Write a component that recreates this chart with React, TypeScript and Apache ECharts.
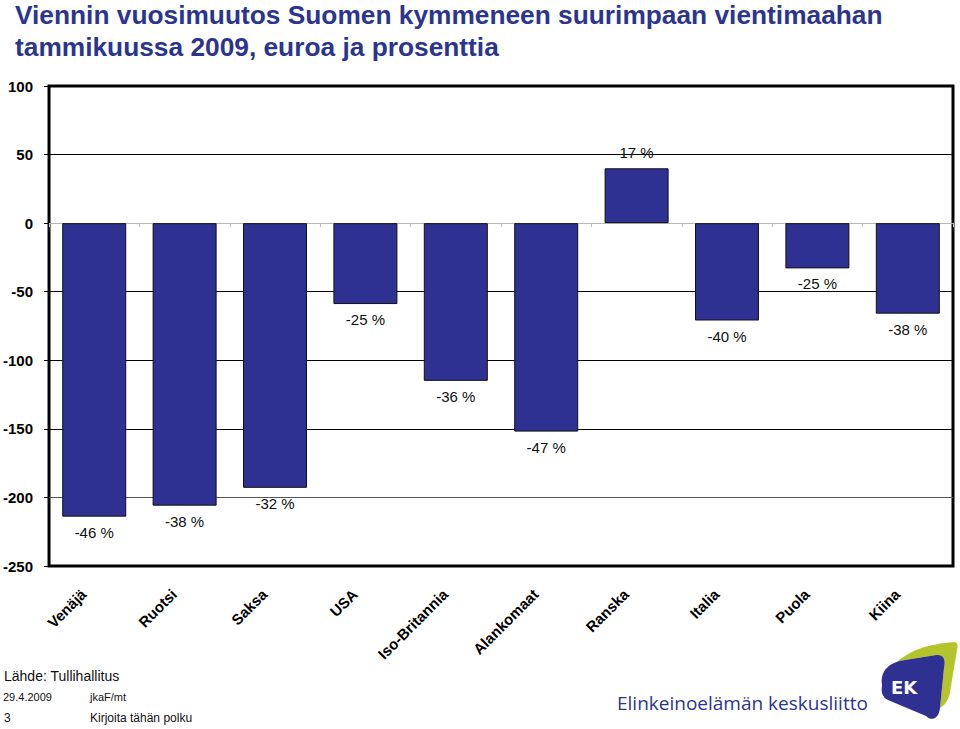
import React, { useEffect, useRef } from "react";
import * as echarts from "echarts";

const categories = ["Venäjä", "Ruotsi", "Saksa", "USA", "Iso-Britannia", "Alankomaat", "Ranska", "Italia", "Puola", "Kiina"];
const values = [-214, -206, -193, -59, -115, -152, 40, -71, -33, -66];
const percentLabels = ["-46 %", "-38 %", "-32 %", "-25 %", "-36 %", "-47 %", "17 %", "-40 %", "-25 %", "-38 %"];
const yMin = -250;
const yMax = 100;
const yInterval = 50;
const gridValues = [-200, -150, -100, -50, 50];

const titleLines = ["Viennin vuosimuutos Suomen kymmeneen suurimpaan vientimaahan", "tammikuussa 2009, euroa ja prosenttia"];

const BLUE_SHAPE = "M 12 55 C 10 40 20 32 35 30 L 66 25 C 74 24 76 30 74 38 L 70 78 C 69 88 62 92 56 86 L 18 70 C 12 67 11 62 12 55 Z";
const GREEN_SHAPE = "M 22 38 C 35 20 60 14 84 12 C 88 12 88 16 87 20 L 80 62 C 79 70 74 76 70 78 L 74 38 C 76 30 74 24 66 25 L 35 30 C 28 31 24 34 22 38 Z";

let registered = false;
function registerShapes() {
  if (registered) return;
  echarts.graphic.registerShape("ekBlue", echarts.graphic.extendPath(BLUE_SHAPE, {}) as any);
  echarts.graphic.registerShape("ekGreen", echarts.graphic.extendPath(GREEN_SHAPE, {}) as any);
  registered = true;
}

export default function App() {
  const ref = useRef<HTMLDivElement>(null);
  useEffect(() => {
    if (!ref.current) return;
    registerShapes();
    const chart = echarts.init(ref.current, null, { renderer: "svg" });
    const font = "'Liberation Sans', Arial, sans-serif";
    chart.setOption({
      animation: false,
      textStyle: { fontFamily: font },
      grid: {
        left: 48, right: 7, top: 86, bottom: 163,
        show: true, borderColor: "#000", borderWidth: 3, backgroundColor: "transparent",
      },
      xAxis: [
        {
          type: "category",
          data: categories,
          position: "bottom",
          axisLine: { show: false, onZero: false },
          axisTick: { show: false },
          axisLabel: {
            rotate: 45, interval: 0, margin: 15, padding: [0, 15, 0, 0],
            fontFamily: font, fontSize: 15, fontWeight: "bold", color: "#000",
          },
        },
        {
          type: "category",
          data: categories,
          position: "top",
          axisLine: { show: true, onZero: true, lineStyle: { color: "#b8b8b8", width: 1 } },
          axisTick: { show: true, length: 4, inside: true, lineStyle: { color: "#c0c0c0" } },
          axisLabel: { show: false },
        },
      ],
      yAxis: {
        type: "value",
        min: yMin, max: yMax, interval: yInterval,
        axisLine: { show: false },
        axisTick: { show: true, length: 5, lineStyle: { color: "#000" } },
        axisLabel: { margin: 16, fontFamily: font, fontSize: 15, fontWeight: "bold", color: "#000" },
        splitLine: { show: false },
      },
      series: [
        {
          type: "line",
          data: [],
          z: 1,
          markLine: {
            silent: true,
            z: 1,
            symbol: "none",
            label: { show: false },
            data: gridValues.map((v) => ({
              yAxis: v,
              lineStyle: { color: v === -200 ? "#555" : "#000", width: 1, type: "solid" },
            })),
          },
        },
        {
          type: "bar",
          xAxisIndex: 0,
          barWidth: 64,
          z: 3,
          data: values.map((v, i) => ({
            value: v,
            label: {
              show: true,
              position: v >= 0 ? "top" : "bottom",
              distance: 8,
              formatter: percentLabels[i],
            },
          })),
          itemStyle: { color: "#2e3192", borderColor: "#111", borderWidth: 1 },
          label: { fontFamily: font, fontSize: 15, color: "#111" },
        },
      ],
      graphic: [
        {
          type: "text", x: 15, y: 15,
          style: { text: titleLines[0], font: `bold 26.3px ${font}`, fill: "#2b3590", textVerticalAlign: "middle" },
        },
        {
          type: "text", x: 15, y: 47,
          style: { text: titleLines[1], font: `bold 26.3px ${font}`, fill: "#2b3590", textVerticalAlign: "middle" },
        },
        {
          type: "text", x: 4, y: 676,
          style: { text: "Lähde: Tullihallitus", font: `14px ${font}`, fill: "#111", textVerticalAlign: "middle" },
        },
        {
          type: "text", x: 3, y: 697,
          style: { text: "29.4.2009", font: `11px ${font}`, fill: "#111", textVerticalAlign: "middle" },
        },
        {
          type: "text", x: 90, y: 697,
          style: { text: "jkaF/mt", font: `11px ${font}`, fill: "#111", textVerticalAlign: "middle" },
        },
        {
          type: "text", x: 4, y: 718,
          style: { text: "3", font: `12px ${font}`, fill: "#111", textVerticalAlign: "middle" },
        },
        {
          type: "text", x: 90, y: 718,
          style: { text: "Kirjoita tähän polku", font: `12px ${font}`, fill: "#111", textVerticalAlign: "middle" },
        },
        {
          type: "text", x: 617, y: 703,
          style: { text: "Elinkeinoelämän keskusliitto", font: `500 19px 'Open Sans', sans-serif`, fill: "#2b3590", textVerticalAlign: "middle" },
        },
        { type: "ekGreen", x: 870, y: 630, style: { fill: "#b5c42a" } },
        { type: "ekBlue", x: 870, y: 630, style: { fill: "#2e3192" } },
        {
          type: "text", x: 891, y: 687,
          style: { text: "EK", font: `bold 18px 'DejaVu Sans', sans-serif`, fill: "#fff", textVerticalAlign: "middle" },
        },
      ],
    });
    return () => chart.dispose();
  }, []);
  return <div ref={ref} style={{ width: 960, height: 729, position: "absolute", left: 0, top: 0 }} />;
}
